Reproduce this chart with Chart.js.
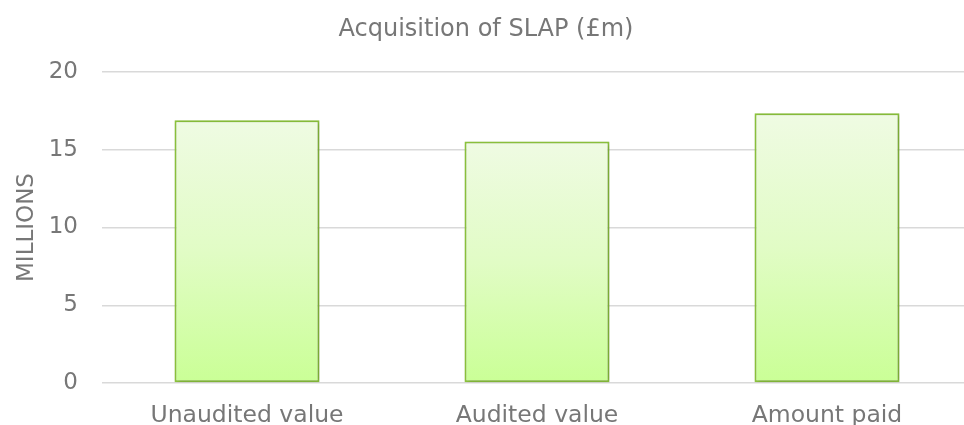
<!DOCTYPE html>
<html>
<head>
<meta charset="utf-8">
<script src="https://cdn.jsdelivr.net/npm/chart.js@4"></script>
<style>
  html, body { margin: 0; padding: 0; background: #fff; overflow: hidden; }
  /* a área do gráfico passa um pouco da borda direita, como no original */
  #wrap { width: 972px; height: 425px; }
</style>
</head>
<body>
<div id="wrap"><canvas id="slapChart"></canvas></div>
<script>
// Categorias e valores (em milhões de libras)
const categories = ['Unaudited value', 'Audited value', 'Amount paid'];
const values = [16.9, 15.53, 17.35];
const yTicks = [0, 5, 10, 15, 20];

const textGrey = '#777777';
const fontFamily = '"DejaVu Sans", Verdana, sans-serif';

// Sombra leve atrás das barras
const shadowPlugin = {
    id: 'barShadow',
    beforeDatasetsDraw(chart) {
        const c = chart.ctx;
        c.save();
        c.shadowColor = 'rgba(0,0,0,0.22)';
        c.shadowBlur = 4;
        c.shadowOffsetX = 1;
        c.shadowOffsetY = 1;
    },
    afterDatasetsDraw(chart) {
        chart.ctx.restore();
    }
};

function barGradient(context) {
    const chart = context.chart;
    const { ctx, scales, chartArea } = chart;
    const v = context.raw;
    if (!chartArea || !scales.y || typeof v !== 'number') return '#d6fbb0';
    const top = scales.y.getPixelForValue(v);
    const bottom = scales.y.getPixelForValue(0);
    if (!isFinite(top) || !isFinite(bottom)) return '#d6fbb0';
    const g = ctx.createLinearGradient(0, top, 0, bottom);
    g.addColorStop(0, '#effbe3');
    g.addColorStop(0.5, '#e1fcc5');
    g.addColorStop(1, '#caff96');
    return g;
}

const ctx = document.getElementById('slapChart').getContext('2d');
new Chart(ctx, {
    type: 'bar',
    data: {
        labels: categories,
        datasets: [{
            label: 'Acquisition of SLAP (£m)',
            data: values,
            backgroundColor: barGradient,
            borderColor: '#8cc43c',
            borderWidth: 2,
            borderSkipped: false,
            barPercentage: 0.5,
            categoryPercentage: 1
        }]
    },
    options: {
        responsive: true,
        maintainAspectRatio: false,
        animation: false,
        layout: { padding: 0 },
        scales: {
            x: {
                grid: { display: false, drawTicks: false },
                border: { display: false },
                ticks: {
                    color: textGrey,
                    font: { family: fontFamily, size: 23.5 },
                    padding: 19,
                    maxRotation: 0,
                    autoSkip: false
                },
                afterFit: (scale) => { scale.height = 42; }
            },
            y: {
                min: 0,
                max: 20,
                afterBuildTicks: (scale) => {
                    scale.ticks = yTicks.map(v => ({ value: v }));
                },
                grid: { color: '#d9d9d9', lineWidth: 1.5, drawTicks: false },
                border: { display: false },
                ticks: {
                    color: textGrey,
                    font: { family: fontFamily, size: 23 },
                    padding: 24
                },
                title: {
                    display: true,
                    text: 'MILLIONS',
                    color: textGrey,
                    font: { family: fontFamily, size: 23 },
                    padding: { top: 13, bottom: 0 }
                },
                afterFit: (scale) => { scale.width = 102; }
            }
        },
        plugins: {
            legend: { display: false },
            tooltip: { enabled: false },
            title: {
                display: true,
                text: 'Acquisition of SLAP (£m)',
                color: textGrey,
                font: { family: fontFamily, size: 24, weight: 'normal' },
                padding: { top: 15, bottom: 28.2 }
            }
        }
    },
    plugins: [shadowPlugin]
});
</script>
</body>
</html>
